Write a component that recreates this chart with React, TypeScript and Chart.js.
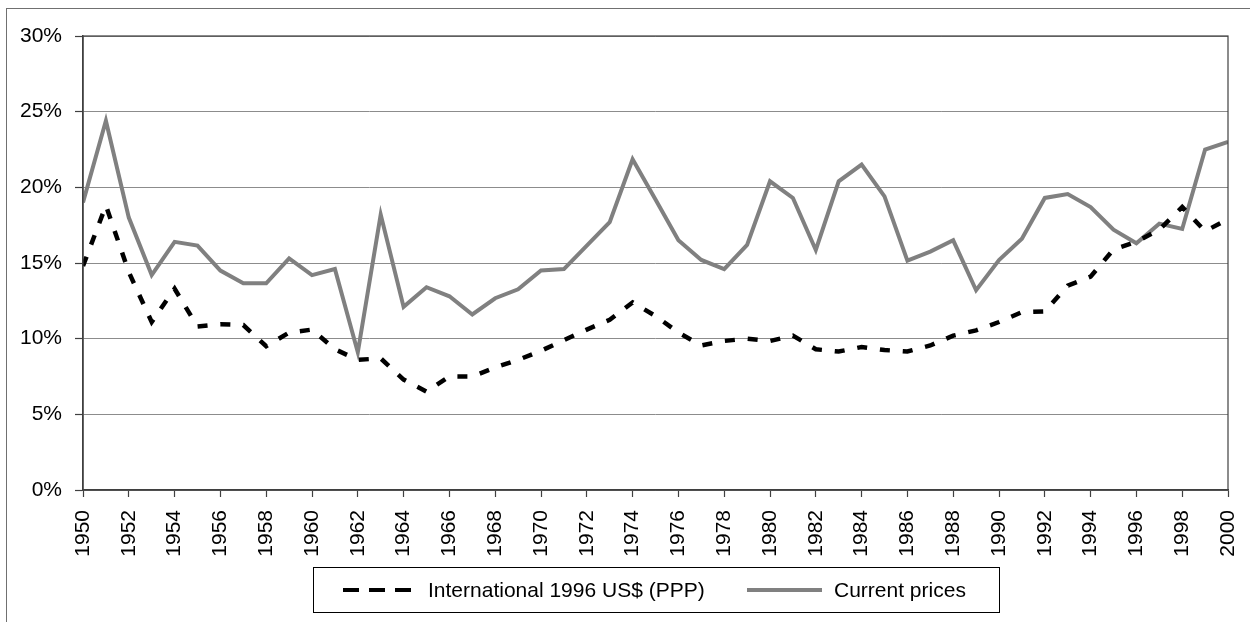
import { useEffect, useRef } from "react";
import { Chart, registerables } from "chart.js";

Chart.register(...registerables);

const years = [
  1950, 1951, 1952, 1953, 1954, 1955, 1956, 1957, 1958, 1959,
  1960, 1961, 1962, 1963, 1964, 1965, 1966, 1967, 1968, 1969,
  1970, 1971, 1972, 1973, 1974, 1975, 1976, 1977, 1978, 1979,
  1980, 1981, 1982, 1983, 1984, 1985, 1986, 1987, 1988, 1989,
  1990, 1991, 1992, 1993, 1994, 1995, 1996, 1997, 1998, 1999,
  2000,
];

const pppValues = [
  14.8, 18.8, 14.4, 11.1, 13.3, 10.8, 10.95, 10.9, 9.5, 10.4,
  10.6, 9.3, 8.6, 8.7, 7.3, 6.5, 7.5, 7.5, 8.1, 8.6,
  9.2, 9.9, 10.6, 11.25, 12.4, 11.5, 10.4, 9.55, 9.85, 10.0,
  9.85, 10.2, 9.3, 9.15, 9.45, 9.25, 9.15, 9.55, 10.2, 10.55,
  11.1, 11.75, 11.8, 13.5, 14.1, 15.9, 16.4, 17.2, 18.7, 17.1,
  17.9,
];

const currentValues = [
  19.0, 24.4, 18.0, 14.2, 16.4, 16.15, 14.5, 13.66, 13.66, 15.3,
  14.2, 14.6, 9.1, 18.2, 12.1, 13.4, 12.8, 11.6, 12.67, 13.26,
  14.5, 14.6, 16.15, 17.7, 21.85, 19.2, 16.5, 15.2, 14.6, 16.2,
  20.4, 19.3, 15.86, 20.4, 21.5, 19.4, 15.16, 15.75, 16.5, 13.2,
  15.2, 16.6, 19.3, 19.56, 18.7, 17.2, 16.3, 17.6, 17.25, 22.5,
  23.0,
];

const seriesNames = ["International 1996 US$ (PPP)", "Current prices"];
const yTicks = [0, 5, 10, 15, 20, 25, 30];

const FONT = "'Liberation Sans', Arial, sans-serif";
const FONT_SIZE = 21;

const decorPlugin = {
  id: "decor",
  afterDraw(chart: any) {
    const ctx = chart.ctx as CanvasRenderingContext2D;
    const ca = chart.chartArea;
    ctx.save();
    // outer frame
    ctx.strokeStyle = "#707070";
    ctx.lineWidth = 1;
    ctx.setLineDash([]);
    ctx.strokeRect(6.5, 8.5, 1260, 640);
    // plot area border
    ctx.strokeStyle = "#404040";
    ctx.lineWidth = 1.2;
    ctx.strokeRect(ca.left, ca.top, ca.right - ca.left, ca.bottom - ca.top);

    // legend box
    ctx.strokeStyle = "#000000";
    ctx.lineWidth = 1;
    ctx.strokeRect(313.5, 567.5, 686, 45);
    const ly = 590;
    // dashed sample
    ctx.beginPath();
    ctx.setLineDash([16, 10]);
    ctx.lineWidth = 4;
    ctx.strokeStyle = "#000000";
    ctx.moveTo(343, ly);
    ctx.lineTo(411, ly);
    ctx.stroke();
    // solid sample
    ctx.beginPath();
    ctx.setLineDash([]);
    ctx.strokeStyle = "#808080";
    ctx.moveTo(747, ly);
    ctx.lineTo(822, ly);
    ctx.stroke();
    // texts
    ctx.fillStyle = "#000000";
    ctx.font = `${FONT_SIZE}px ${FONT}`;
    ctx.textBaseline = "middle";
    ctx.textAlign = "left";
    ctx.fillText(seriesNames[0], 428, ly + 1);
    ctx.fillText(seriesNames[1], 834, ly + 1);
    ctx.restore();
  },
};

export default function App() {
  const canvasRef = useRef<HTMLCanvasElement | null>(null);

  useEffect(() => {
    document.body.style.margin = "0";
    const canvas = canvasRef.current;
    if (!canvas) return;
    const chart = new Chart(canvas, {
      type: "line",
      data: {
        datasets: [
          {
            label: seriesNames[0],
            data: years.map((y, i) => ({ x: y, y: pppValues[i] })),
            borderColor: "#000000",
            borderWidth: 4.5,
            borderDash: [10, 12.9],
            borderCapStyle: "butt",
            pointRadius: 0,
            tension: 0,
            fill: false,
          },
          {
            label: seriesNames[1],
            data: years.map((y, i) => ({ x: y, y: currentValues[i] })),
            borderColor: "#808080",
            borderWidth: 4,
            pointRadius: 0,
            tension: 0,
            fill: false,
          },
        ],
      },
      options: {
        responsive: false,
        animation: false,
        devicePixelRatio: 1,
        layout: { padding: { left: 0, top: 36, right: 22, bottom: 0 } },
        plugins: {
          legend: { display: false },
          tooltip: { enabled: false },
        },
        scales: {
          x: {
            type: "linear",
            min: years[0],
            max: years[years.length - 1],
            afterFit: (scale: any) => {
              scale.height = 132;
              scale.paddingLeft = 0;
              scale.paddingRight = 0;
            },
            afterBuildTicks: (scale: any) => {
              scale.ticks = years
                .filter((y) => (y - years[0]) % 2 === 0)
                .map((v) => ({ value: v }));
            },
            ticks: {
              autoSkip: false,
              maxRotation: 90,
              minRotation: 90,
              padding: 13,
              color: "#000000",
              font: { family: FONT, size: FONT_SIZE },
              callback: (v: any) => String(v),
            },
            grid: {
              drawOnChartArea: false,
              drawTicks: true,
              tickLength: 7,
              tickColor: "#404040",
              tickWidth: 1.2,
            },
            border: { color: "#404040", width: 1.5 },
          },
          y: {
            min: 0,
            max: 30,
            afterFit: (scale: any) => {
              scale.width = 83;
              scale.paddingTop = 0;
              scale.paddingBottom = 0;
            },
            afterBuildTicks: (scale: any) => {
              scale.ticks = yTicks.map((v) => ({ value: v }));
            },
            ticks: {
              padding: 13,
              color: "#000000",
              font: { family: FONT, size: FONT_SIZE },
              callback: (v: any) => `${v}%`,
            },
            grid: {
              color: "#8c8c8c",
              lineWidth: 1,
              drawTicks: true,
              tickLength: 8,
              tickColor: "#404040",
              tickWidth: 1.2,
            },
            border: { color: "#404040", width: 1.5 },
          },
        },
      },
      plugins: [decorPlugin],
    });
    return () => chart.destroy();
  }, []);

  return (
    <div style={{ width: 1250, height: 622, background: "#ffffff" }}>
      <canvas ref={canvasRef} width={1250} height={622} style={{ display: "block" }} />
    </div>
  );
}
